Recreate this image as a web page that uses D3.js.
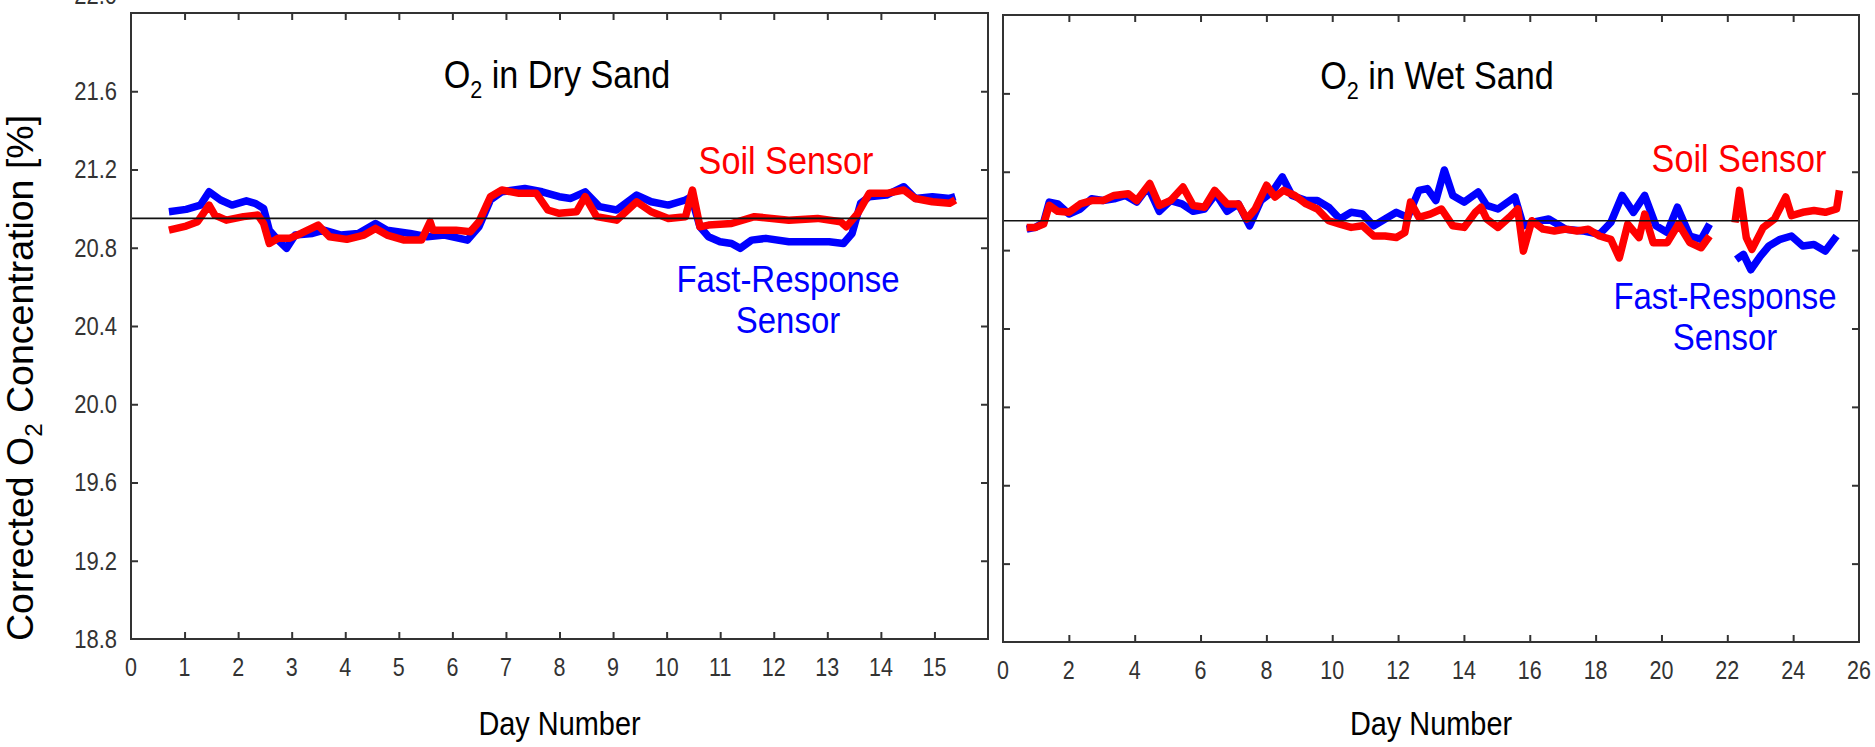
<!DOCTYPE html>
<html>
<head>
<meta charset="utf-8">
<script src="https://cdn.jsdelivr.net/npm/d3@7"></script>
<style>
  html, body { margin: 0; padding: 0; background: #fff; }
  svg { display: block; }
  text { font-family: "Liberation Sans", Arial, sans-serif; }
</style>
</head>
<body>
<svg id="chart" width="1875" height="747"></svg>
<script>
// ---- Data: corrected O2 concentration [%] vs. day number ----
const dryFastDay = [0.708,1.029,1.297,1.458,1.672,1.886,2.154,2.315,2.476,2.582,2.745,2.905,3.065,3.387,3.601,3.923,4.244,4.565,4.780,5.209,5.530,5.852,6.281,6.496,6.710,6.923,7.353,7.674,7.995,8.210,8.479,8.745,9.066,9.441,9.711,10.032,10.353,10.461,10.622,10.782,10.997,11.212,11.372,11.587,11.854,12.283,12.711,13.034,13.301,13.462,13.622,13.783,14.105,14.427,14.641,14.962,15.284,15.390];
const dryFastO2  = [20.984,20.996,21.018,21.086,21.044,21.018,21.040,21.027,21.001,20.890,20.839,20.797,20.865,20.873,20.890,20.865,20.873,20.924,20.890,20.873,20.856,20.865,20.839,20.907,21.044,21.086,21.103,21.086,21.061,21.052,21.086,21.010,20.993,21.069,21.035,21.018,21.044,21.061,20.907,20.856,20.831,20.822,20.797,20.839,20.848,20.831,20.831,20.831,20.822,20.873,21.027,21.061,21.069,21.112,21.052,21.061,21.052,21.061];

const drySoilDay = [0.708,1.029,1.243,1.458,1.565,1.779,2.101,2.369,2.476,2.582,2.745,2.958,3.173,3.494,3.708,4.030,4.351,4.565,4.780,5.102,5.423,5.584,5.637,6.067,6.335,6.496,6.710,6.923,7.246,7.567,7.781,7.995,8.317,8.479,8.692,9.066,9.441,9.711,10.032,10.353,10.482,10.622,10.782,11.212,11.640,12.283,12.818,13.248,13.354,13.569,13.783,14.105,14.427,14.641,14.962,15.284,15.390];
const drySoilO2  = [20.890,20.911,20.933,21.018,20.967,20.941,20.959,20.967,20.924,20.822,20.848,20.848,20.873,20.916,20.856,20.843,20.865,20.899,20.865,20.839,20.839,20.933,20.890,20.890,20.882,20.933,21.061,21.095,21.078,21.078,20.993,20.976,20.984,21.061,20.959,20.941,21.035,20.984,20.950,20.959,21.095,20.907,20.916,20.924,20.959,20.941,20.950,20.933,20.907,20.976,21.078,21.078,21.095,21.052,21.035,21.027,21.044];

// null marks the gap in the wet-sand record
const wetFastDay = [0.719,0.977,1.234,1.405,1.662,2.005,2.348,2.691,3.034,3.376,3.719,4.062,4.405,4.748,5.091,5.434,5.776,6.119,6.462,6.805,7.148,7.490,7.833,8.177,8.485,8.776,9.205,9.548,9.891,10.233,10.576,10.919,11.262,11.605,11.948,12.291,12.634,12.891,13.148,13.405,13.662,14.005,14.433,14.691,15.034,15.548,15.805,16.062,16.576,17.091,17.605,18.119,18.462,18.805,19.148,19.491,19.834,20.176,20.485,20.862,21.205,21.462,21.8,22.268,22.491,22.713,23.005,23.262,23.605,23.948,24.291,24.633,24.976,25.319];
const wetFastO2  = [20.907,20.916,20.941,21.045,21.036,20.984,21.010,21.062,21.053,21.062,21.079,21.045,21.122,20.998,21.053,21.036,20.998,21.010,21.088,20.998,21.036,20.924,21.053,21.097,21.174,21.079,21.053,21.053,21.019,20.959,20.993,20.984,20.924,20.959,20.993,20.967,21.105,21.114,21.053,21.209,21.079,21.045,21.097,21.028,21.010,21.071,20.924,20.941,20.959,20.907,20.898,20.881,20.941,21.079,20.993,21.079,20.924,20.890,21.019,20.872,20.855,20.933,null,20.752,20.778,20.700,20.769,20.821,20.855,20.872,20.821,20.829,20.795,20.872];

const wetSoilDay = [0.719,0.977,1.234,1.405,1.662,2.005,2.348,2.691,3.034,3.376,3.805,4.062,4.457,4.748,5.091,5.468,5.776,6.119,6.428,6.805,7.148,7.405,7.662,8.005,8.262,8.519,8.862,9.205,9.548,9.891,10.233,10.576,10.919,11.262,11.605,11.948,12.205,12.377,12.634,12.977,13.319,13.662,14.005,14.348,14.519,14.691,15.034,15.377,15.634,15.805,16.062,16.405,16.748,17.091,17.433,17.776,18.119,18.462,18.719,18.976,19.319,19.491,19.748,20.176,20.519,20.862,21.205,21.462,21.8,22.233,22.371,22.576,22.748,23.091,23.433,23.776,23.948,24.291,24.633,24.976,25.319,25.405];
const wetSoilO2  = [20.916,20.916,20.933,21.028,20.998,20.993,21.036,21.053,21.053,21.079,21.088,21.053,21.140,21.028,21.053,21.122,21.028,21.019,21.105,21.036,21.036,20.959,21.010,21.131,21.071,21.105,21.079,21.036,21.010,20.950,20.933,20.916,20.924,20.872,20.872,20.864,20.890,21.045,20.967,20.984,21.010,20.924,20.916,20.993,21.019,20.959,20.916,20.967,21.010,20.795,20.950,20.907,20.898,20.907,20.898,20.907,20.872,20.855,20.760,20.933,20.864,20.984,20.838,20.838,20.933,20.838,20.812,20.872,null,20.941,21.105,20.864,20.804,20.916,20.959,21.071,20.976,20.993,21.002,20.993,21.010,21.105];

// Axis ticks
const yTicks = [18.8, 19.2, 19.6, 20.0, 20.4, 20.8, 21.2, 21.6, 22.0];
const dryXTicks = [0,1,2,3,4,5,6,7,8,9,10,11,12,13,14,15];
const wetXTicks = [0,2,4,6,8,10,12,14,16,18,20,22,24,26];
const atmosphericO2 = 20.95;

const svg = d3.select("#chart");
const axisColor = "#333";
const fastColor = "#0000ff";
const soilColor = "#ff0000";

// Condensed text: draw at (x, y) with a horizontal squeeze
function condensed(parent, x, y, size, sx, fill, anchor) {
  return parent.append("text")
    .attr("transform", `translate(${x},${y}) scale(${sx},1)`)
    .attr("text-anchor", anchor || "middle")
    .attr("font-size", size).attr("fill", fill);
}

const panels = [
  {
    left: 131, right: 988, top: 13, bottom: 639,
    xDomain: [0, 16], xTicks: dryXTicks, yLabels: true,
    title: "in Dry Sand", titleX: 557, titleY: 88,
    fast: { day: dryFastDay, o2: dryFastO2 },
    soil: { day: drySoilDay, o2: drySoilO2 },
    soilLabel: [786, 174], fastLabel: [788, 292]
  },
  {
    left: 1003, right: 1859, top: 15, bottom: 642,
    xDomain: [0, 26], xTicks: wetXTicks, yLabels: false,
    title: "in Wet Sand", titleX: 1437, titleY: 89,
    fast: { day: wetFastDay, o2: wetFastO2 },
    soil: { day: wetSoilDay, o2: wetSoilO2 },
    soilLabel: [1739, 172], fastLabel: [1725, 309]
  }
];

panels.forEach(p => {
  const x = d3.scaleLinear().domain(p.xDomain).range([p.left, p.right]);
  const y = d3.scaleLinear().domain([18.8, 22.0]).range([p.bottom, p.top]);
  const g = svg.append("g");

  const clipId = "clip" + p.left;
  svg.append("clipPath").attr("id", clipId)
    .append("rect").attr("x", p.left).attr("y", p.top)
    .attr("width", p.right - p.left).attr("height", p.bottom - p.top);

  const line = d3.line()
    .defined(d => d[1] !== null)
    .x(d => x(d[0])).y(d => y(d[1]));

  const plot = g.append("g").attr("clip-path", `url(#${clipId})`);
  const fastPts = p.fast.day.map((d, i) => [d, p.fast.o2[i]]);
  const soilPts = p.soil.day.map((d, i) => [d, p.soil.o2[i]]);
  plot.append("path").attr("d", line(fastPts))
    .attr("fill", "none").attr("stroke", fastColor)
    .attr("stroke-width", 7.5).attr("stroke-linejoin", "round");
  plot.append("path").attr("d", line(soilPts))
    .attr("fill", "none").attr("stroke", soilColor)
    .attr("stroke-width", 7.5).attr("stroke-linejoin", "round");

  // Atmospheric O2 reference line
  g.append("line")
    .attr("x1", p.left).attr("x2", p.right)
    .attr("y1", y(atmosphericO2)).attr("y2", y(atmosphericO2))
    .attr("stroke", "#111").attr("stroke-width", 1.6);

  // Axes with inward ticks on all four sides
  const tickLen = 7;
  const xInner = p.xTicks.filter(t => t > p.xDomain[0] && t < p.xDomain[1]);
  const yInner = yTicks.filter(t => t > 18.8 && t < 22.0);

  const bottomAxis = d3.axisBottom(x).tickValues(xInner).tickSize(-tickLen).tickFormat("");
  const topAxis = d3.axisTop(x).tickValues(xInner).tickSize(-tickLen).tickFormat("");
  const leftAxis = d3.axisLeft(y).tickValues(yInner).tickSize(-tickLen).tickFormat("");
  const rightAxis = d3.axisRight(y).tickValues(yInner).tickSize(-tickLen).tickFormat("");

  [[bottomAxis, `translate(0,${p.bottom})`], [topAxis, `translate(0,${p.top})`],
   [leftAxis, `translate(${p.left},0)`], [rightAxis, `translate(${p.right},0)`]]
    .forEach(([ax, tr]) => {
      const a = g.append("g").attr("transform", tr).call(ax);
      a.select(".domain").remove();
      a.selectAll("line").attr("stroke", axisColor).attr("stroke-width", 2);
    });

  g.append("rect")
    .attr("x", p.left).attr("y", p.top)
    .attr("width", p.right - p.left).attr("height", p.bottom - p.top)
    .attr("fill", "none").attr("stroke", axisColor).attr("stroke-width", 2);

  // Tick labels
  p.xTicks.forEach(d => {
    condensed(g, x(d), p.bottom + 37, 25, 0.86, axisColor).text(d);
  });

  if (p.yLabels) {
    yTicks.forEach(d => {
      condensed(g, p.left - 14, d === 22.0 ? -5 : y(d), 25, 0.88, axisColor, "end")
        .attr("dy", "0.35em").text(d.toFixed(1));
    });
  }

  // X axis title
  condensed(g, (p.left + p.right) / 2, 735, 34, 0.85, "#000").text("Day Number");

  // Panel title with subscript
  const t = condensed(g, p.titleX, p.titleY, 38, 0.9, "#000");
  t.append("tspan").text("O");
  t.append("tspan").attr("font-size", 24).attr("dy", 10).text("2");
  t.append("tspan").attr("dy", -10).text(" " + p.title);

  // Series labels (two separate lines for the fast-response sensor)
  condensed(g, p.soilLabel[0], p.soilLabel[1], 38, 0.9, soilColor).text("Soil Sensor");
  condensed(g, p.fastLabel[0], p.fastLabel[1], 37, 0.89, fastColor).text("Fast-Response");
  condensed(g, p.fastLabel[0], p.fastLabel[1] + 41, 37, 0.89, fastColor).text("Sensor");
});

// Y axis title
const yt = svg.append("text")
  .attr("transform", "translate(33,378) rotate(-90)")
  .attr("text-anchor", "middle").attr("font-size", 37.5).attr("fill", "#000");
yt.append("tspan").text("Corrected O");
yt.append("tspan").attr("font-size", 24).attr("dy", 9).text("2");
yt.append("tspan").attr("dy", -9).text(" Concentration [%]");
</script>
</body>
</html>
